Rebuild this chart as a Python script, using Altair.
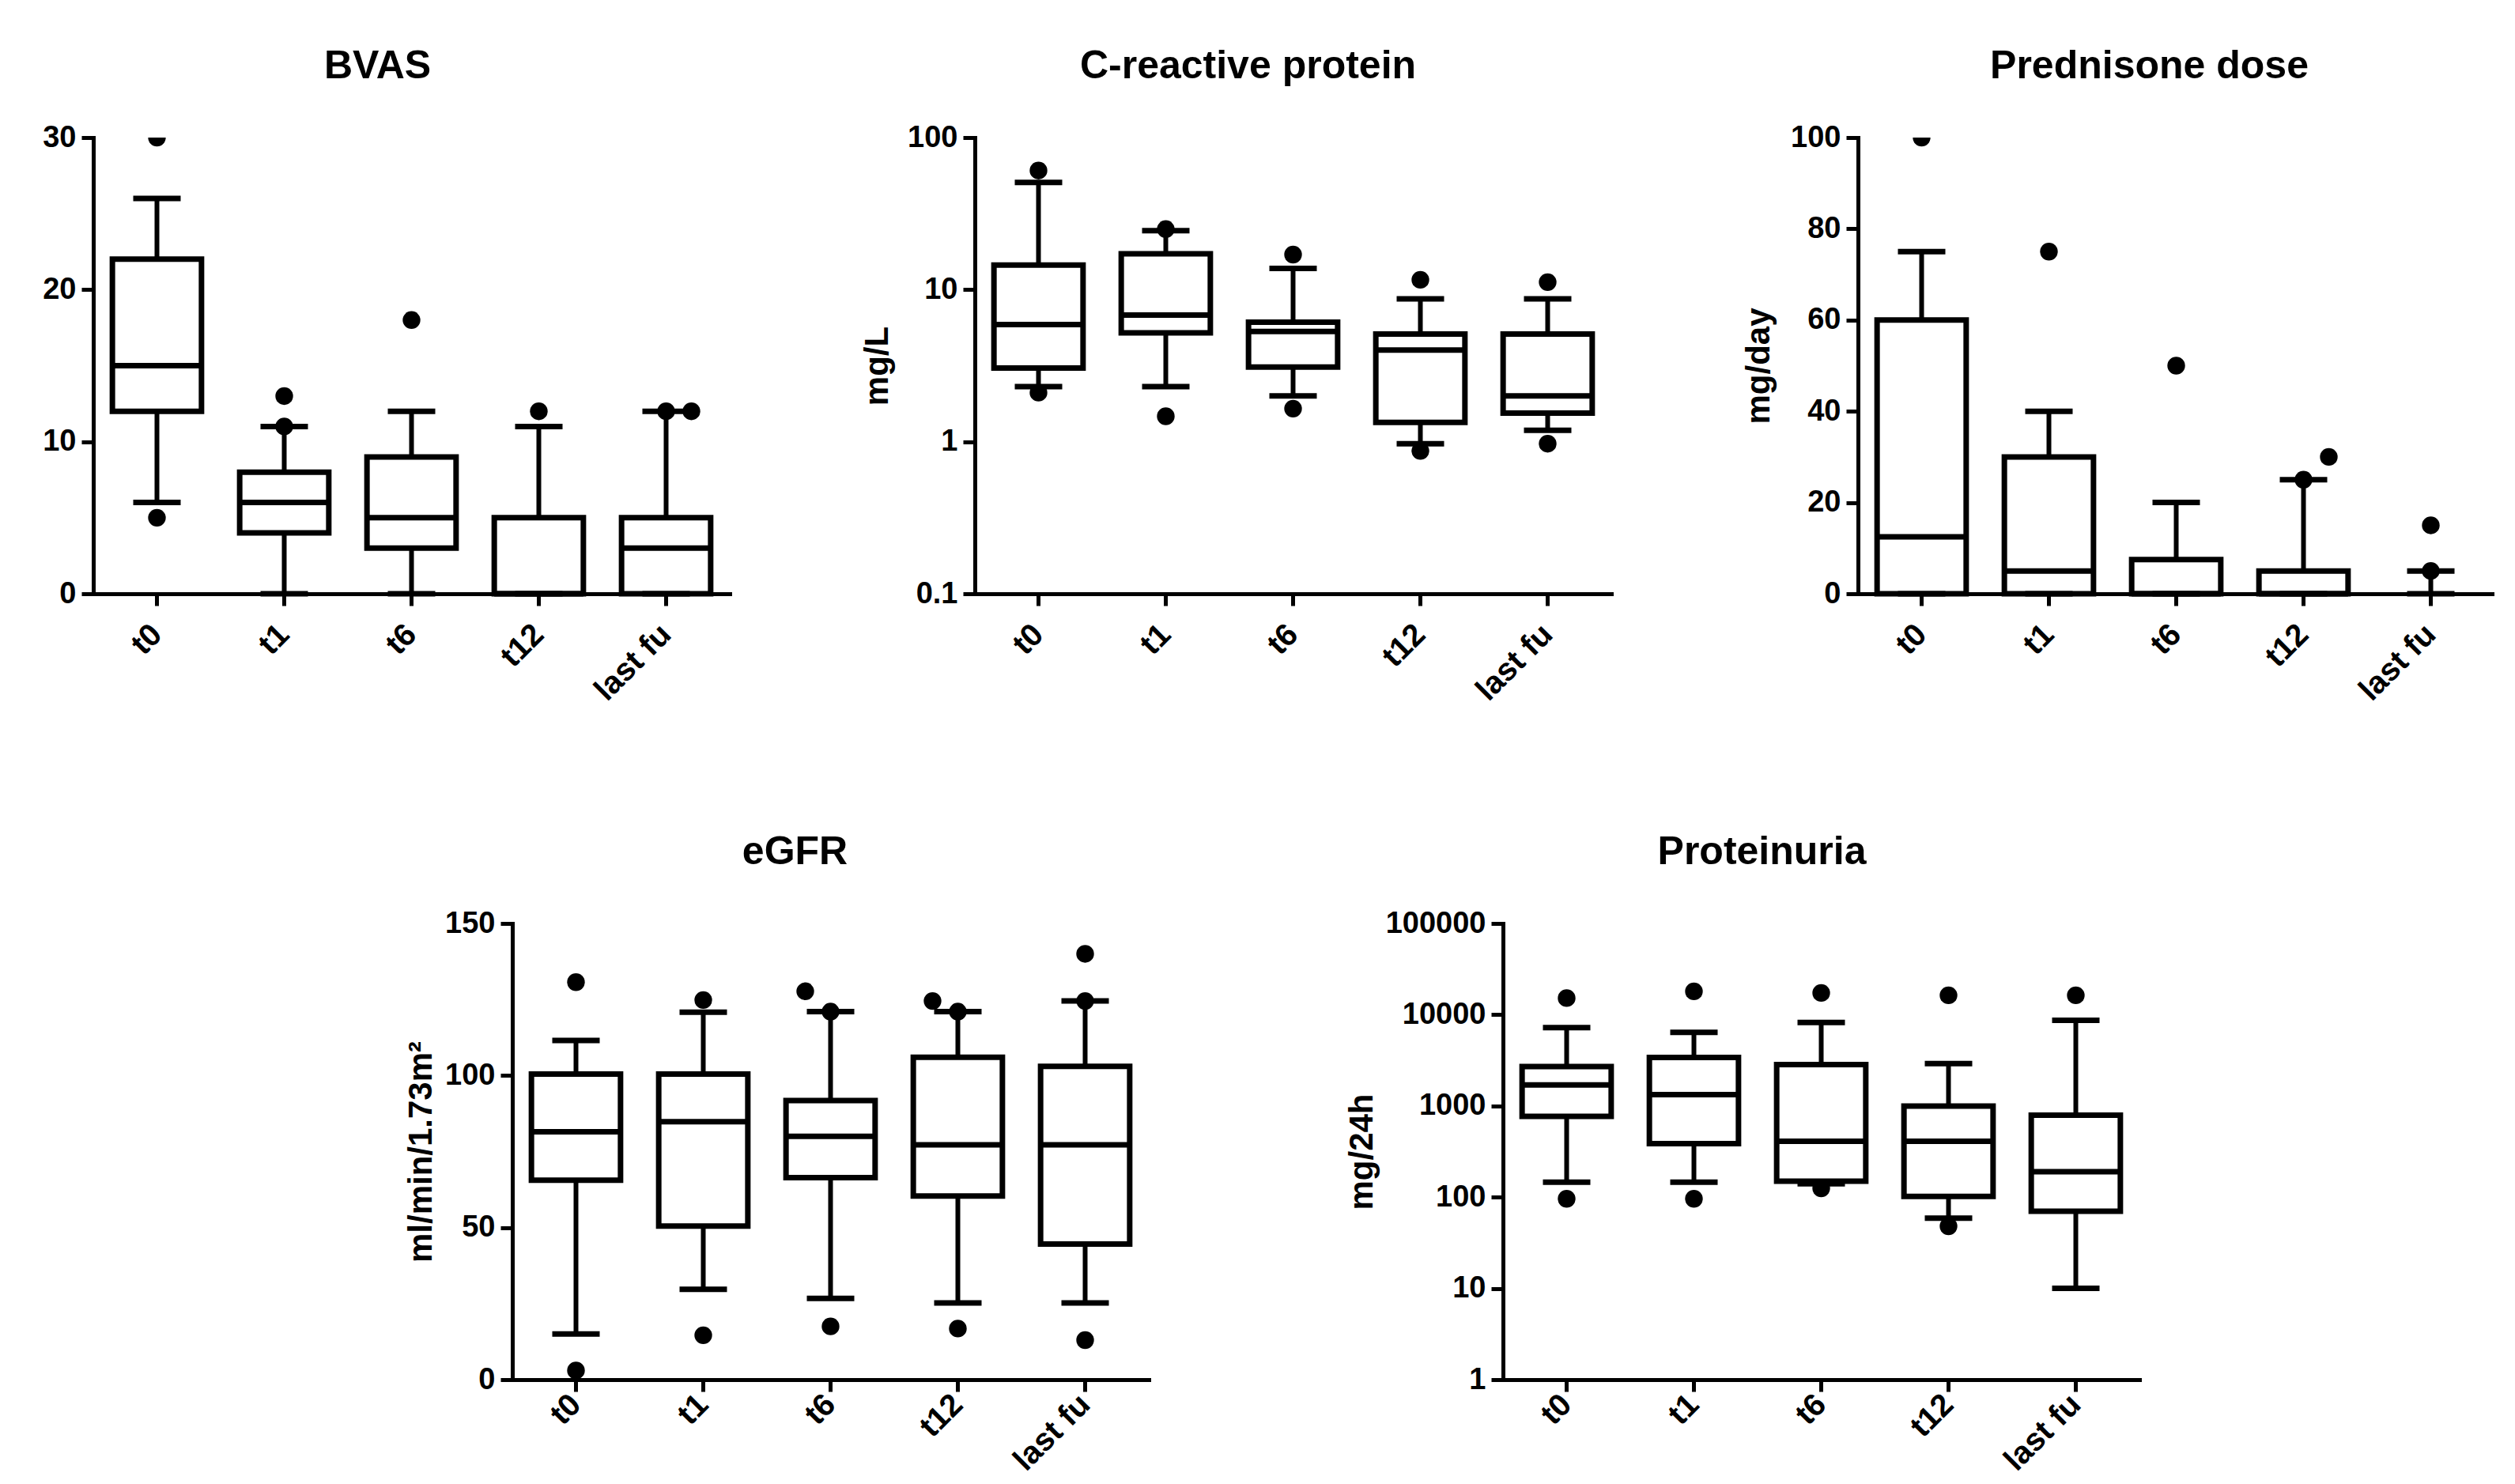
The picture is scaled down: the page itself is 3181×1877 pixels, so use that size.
import altair as alt
import pandas as pd

cats = ["t0", "t1", "t6", "t12", "last fu"]

# BVAS
bvas_lo = [6, 0, 0, 0, 0]
bvas_q1 = [12, 4, 3, 0, 0]
bvas_med = [15, 6, 5, 0, 3]
bvas_q3 = [22, 8, 9, 5, 5]
bvas_hi = [26, 11, 12, 11, 12]
bvas_out = [[30, 5], [13, 11], [18], [12], [12, 12]]

# C-reactive protein (mg/L)
crp_lo = [2.3, 2.3, 2.0, 0.97, 1.19]
crp_q1 = [3.05, 5.2, 3.1, 1.34, 1.54]
crp_med = [5.9, 6.8, 5.3, 4.0, 2.0]
crp_q3 = [14.5, 17.2, 6.1, 5.1, 5.1]
crp_hi = [50.7, 24.4, 13.8, 8.7, 8.7]
crp_out = [[60.7, 2.1], [25, 1.47], [17, 1.65], [11.6, 0.87], [11.2, 0.97]]

# Prednisone dose (mg/day)
pred_lo = [0, 0, 0, 0, 0]
pred_q1 = [0, 0, 0, 0, 0]
pred_med = [12.5, 5, 0, 0, 0]
pred_q3 = [60, 30, 7.5, 5, 0]
pred_hi = [75, 40, 20, 25, 5]
pred_out = [[100], [75], [50], [25, 30], [5, 15]]

# eGFR (ml/min/1.73m2)
egfr_lo = [15, 29.7, 26.7, 25.2, 25.2]
egfr_q1 = [65.6, 50.5, 66.4, 60.4, 44.6]
egfr_med = [81.5, 84.8, 80, 77.2, 77.2]
egfr_q3 = [100.5, 100.5, 91.8, 106, 103]
egfr_hi = [111.5, 120.8, 121, 121, 124.5]
egfr_out = [[130.7, 3], [124.8, 14.6], [127.7, 121, 17.5], [124.5, 121, 16.8], [140, 124.5, 13]]

# Proteinuria (mg/24h)
prot_lo = [146, 146, 140, 59, 10]
prot_q1 = [770, 386, 150, 102, 70]
prot_med = [1700, 1330, 409, 409, 190]
prot_q3 = [2700, 3400, 2840, 995, 790]
prot_hi = [7200, 6400, 8220, 2910, 8700]
prot_out = [[15200, 96], [18000, 96], [17300, 125], [16300, 48], [16300]]

# which side a tied/crowded outlier dot is nudged to (style only: -1 left, 0 centre, 1 right)
bvas_side = [[0, 0], [0, 0], [0], [0], [0, 1]]
crp_side = [[0, 0], [0, 0], [0, 0], [0, 0], [0, 0]]
pred_side = [[0], [0], [0], [0, 1], [0, 0]]
egfr_side = [[0, 0], [0, 0], [-1, 0, 0], [-1, 0, 0], [0, 0, 0]]
prot_side = [[0, 0], [0, 0], [0, 0], [0, 0], [0]]

W = 805
H = 577
STEP = W / 5
BOX = STEP * 0.7
NUDGE = 32
FONT = "Liberation Sans"


def panel(title, ytitle, lo, q1, med, q3, hi, outs, sides, ydomain, yvalues, ylog,
          extent, tdx, xlabpad):
    box = pd.DataFrame({"cat": cats, "lo": lo, "q1": q1, "med": med, "q3": q3, "hi": hi})
    pts = pd.DataFrame(
        [(c, v, s) for c, vals, ss in zip(cats, outs, sides) for v, s in zip(vals, ss)],
        columns=["cat", "v", "side"],
    )
    x = alt.X(
        "cat:N",
        sort=cats,
        scale=alt.Scale(paddingInner=0.3, paddingOuter=0.15),
        axis=alt.Axis(
            title=None,
            labelAngle=-45,
            labelAlign="right",
            labelBaseline="middle",
            labelPadding=xlabpad,
            labelFontSize=40,
            tickSize=15,
        ),
    )
    if ylog:
        sc = alt.Scale(type="log", domain=ydomain, nice=False)
        fmt = "~g"
    else:
        sc = alt.Scale(domain=ydomain, nice=False, zero=True)
        fmt = "d"
    axis_kw = dict(
        values=yvalues,
        format=fmt,
        minExtent=extent,
        maxExtent=extent,
        titlePadding=8,
        tickSize=15,
        labelPadding=7,
    )
    if ytitle:
        yax = alt.Axis(title=ytitle, **axis_kw)
    else:
        yax = alt.Axis(title=None, **axis_kw)

    base = alt.Chart(box)
    whisk = base.mark_rule(color="black", strokeWidth=6).encode(
        x=x, y=alt.Y("lo:Q", scale=sc, axis=yax), y2="hi:Q"
    )
    boxes = (
        base.transform_filter("datum.q3 > datum.q1")
        .mark_bar(fill="white", stroke="black", strokeWidth=7)
        .encode(x=x, y=alt.Y("q1:Q", scale=sc, axis=yax), y2="q3:Q")
    )
    medians = (
        base.transform_filter("datum.q3 > datum.q1")
        .mark_tick(color="black", size=BOX, thickness=7, opacity=1)
        .encode(x=x, y=alt.Y("med:Q", scale=sc, axis=yax))
    )
    cap_hi = base.mark_tick(color="black", size=60, thickness=7, opacity=1).encode(
        x=x, y=alt.Y("hi:Q", scale=sc, axis=yax)
    )
    cap_lo = base.mark_tick(color="black", size=60, thickness=7, opacity=1).encode(
        x=x, y=alt.Y("lo:Q", scale=sc, axis=yax)
    )
    layers = [whisk, boxes, medians, cap_hi, cap_lo]
    for s in (-1, 0, 1):
        layers.append(
            alt.Chart(pts)
            .transform_filter(f"datum.side == {s}")
            .mark_circle(color="black", size=500, opacity=1, clip=True, xOffset=s * NUDGE)
            .encode(x=x, y=alt.Y("v:Q", scale=sc, axis=yax))
        )
    return alt.layer(*layers).properties(
        width=W,
        height=H,
        title=alt.TitleParams(text=title, dx=tdx, frame="group", anchor="middle"),
    )


p1 = panel("BVAS", None, bvas_lo, bvas_q1, bvas_med, bvas_q3, bvas_hi, bvas_out, bvas_side,
           [0, 30], [0, 10, 20, 30], False, 110, -43, 30)
p2 = panel("C-reactive protein", "mg/L", crp_lo, crp_q1, crp_med, crp_q3, crp_hi, crp_out,
           crp_side, [0.1, 100], [0.1, 1, 10, 100], True, 94, -57, 30)
p3 = panel("Prednisone dose", "mg/day", pred_lo, pred_q1, pred_med, pred_q3, pred_hi, pred_out,
           pred_side, [0, 100], [0, 20, 40, 60, 80, 100], False, 96, -34, 30)
p4 = panel("eGFR", "ml/min/1.73m²", egfr_lo, egfr_q1, egfr_med, egfr_q3, egfr_hi, egfr_out,
           egfr_side, [0, 150], [0, 50, 100, 150], False, 86, -45, 10)
p5 = panel("Proteinuria", "mg/24h", prot_lo, prot_q1, prot_med, prot_q3, prot_hi, prot_out,
           prot_side, [1, 100000], [1, 10, 100, 1000, 10000, 100000], True, 149, -75, 10)

spacer = (
    alt.Chart(pd.DataFrame({"a": [0]}))
    .mark_point(opacity=0)
    .encode(x=alt.X("a:Q", axis=None), y=alt.Y("a:Q", axis=None))
    .properties(width=145, height=H)
)

top = alt.hconcat(p1, p2, p3, spacing=165)
bottom = alt.hconcat(spacer, p4, p5, spacing=248)

chart = (
    alt.vconcat(top, bottom, spacing=159)
    .properties(padding={"left": 0, "top": 51, "right": 0, "bottom": 0})
    .configure_view(stroke=None)
    .configure_axis(
        grid=False,
        domainColor="black",
        domainWidth=5,
        domainCap="square",
        tickColor="black",
        tickWidth=5,
        labelFont=FONT,
        labelFontSize=38,
        labelFontWeight="bold",
        labelColor="black",
        titleFont=FONT,
        titleFontSize=42,
        titleFontWeight="bold",
        titleColor="black",
    )
    .configure_title(font=FONT, fontSize=50, fontWeight="bold", color="black", offset=46)
)

chart.save("out.html", embed_options={"renderer": "svg", "actions": False})
